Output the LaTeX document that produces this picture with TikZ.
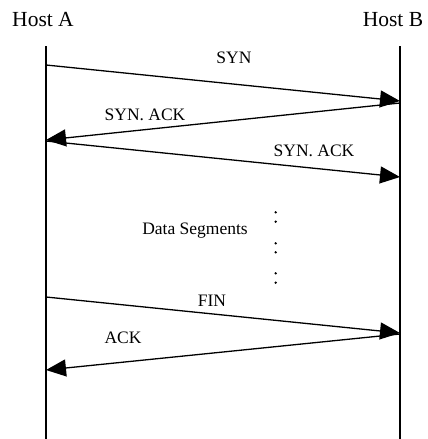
\documentclass[tikz,border=0pt]{standalone}
\usepackage{fontspec}
\setmainfont{Liberation Serif}
\usetikzlibrary{arrows.meta}
\begin{document}
\begin{tikzpicture}[x=1pt,y=-1pt,
  life/.style={line width=1.5pt},
  msg/.style={line width=1.3pt,-{Triangle[length=20pt,width=17pt]}},
  lbl/.style={font=\fontsize{17.5}{18}\selectfont,anchor=base,inner sep=0pt},
  host/.style={font=\fontsize{21.5}{22}\selectfont,anchor=base,inner sep=0pt},
  dot/.style={circle,fill=black,inner sep=0pt,minimum size=2.6pt}]
\useasboundingbox (0,0) rectangle (428,439);
% hosts
\node[host] (hA) at (43,26) {Host A};
\node[host] (hB) at (393,26) {Host B};
% lifelines
\coordinate (A0) at (46,46);
\coordinate (A1) at (46,439);
\coordinate (B0) at (400,46);
\coordinate (B1) at (400,439);
\draw[life] (A0) -- (A1);
\draw[life] (B0) -- (B1);
% message endpoints
\coordinate (s1) at (46,65);   \coordinate (e1) at (400,101);
\coordinate (s2) at (400,103); \coordinate (e2) at (46,140);
\coordinate (s3) at (46,141);  \coordinate (e3) at (400,177);
\coordinate (s4) at (46,297);  \coordinate (e4) at (400,333);
\coordinate (s5) at (400,334); \coordinate (e5) at (46,370);
\draw[msg] (s1) -- (e1);
\draw[msg] (s2) -- (e2);
\draw[msg] (s3) -- (e3);
\draw[msg] (s4) -- (e4);
\draw[msg] (s5) -- (e5);
% labels
\node[lbl] (l1) at (234,63) {SYN};
\node[lbl] (l2) at (145,120) {SYN. ACK};
\node[lbl] (l3) at (314,156) {SYN. ACK};
\node[lbl] (l4) at (195,234) {Data Segments};
\node[lbl] (l5) at (212,306) {FIN};
\node[lbl] (l6) at (123,343) {ACK};
% dots
\node[dot] (d1) at (275.7,212.3) {};
\node[dot] (d2) at (275.7,221.7) {};
\node[dot] (d3) at (275.7,243.3) {};
\node[dot] (d4) at (275.7,252.3) {};
\node[dot] (d5) at (275.7,273.3) {};
\node[dot] (d6) at (275.7,282.7) {};
\end{tikzpicture}
\end{document}
